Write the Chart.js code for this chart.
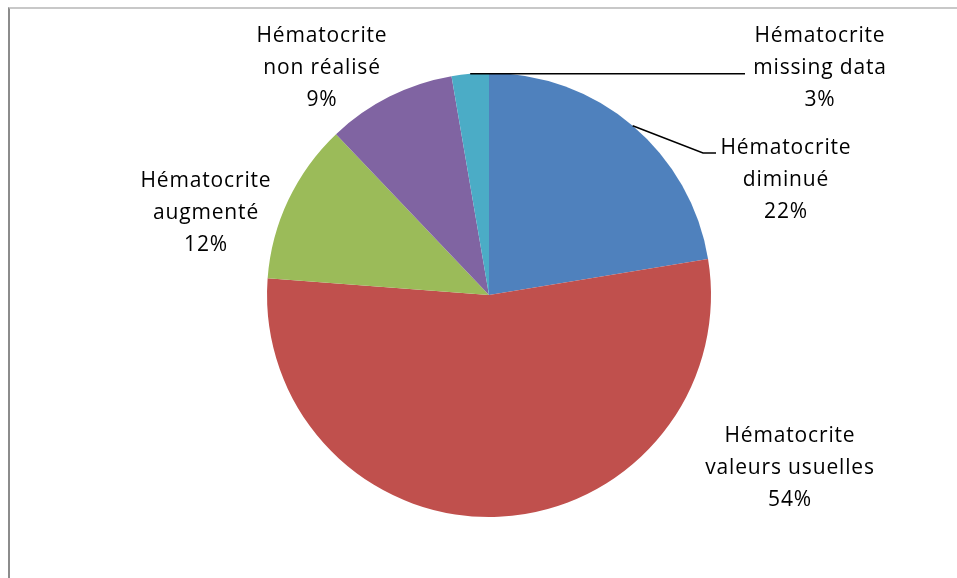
<!DOCTYPE html>
<html>
<head>
<meta charset="utf-8">
<script src="https://cdn.jsdelivr.net/npm/chart.js@4"></script>
<style>
  html, body { margin: 0; padding: 0; background: #fff; }
  #wrap { position: relative; width: 957px; height: 578px; }
  #frame { position: absolute; left: 8px; top: 7px; right: 0; bottom: 0;
           border-top: 2px solid #c8c8c8; border-left: 2px solid #8c8c8c; }
  canvas { position: absolute; left: 0; top: 0; }
</style>
</head>
<body>
<div id="wrap">
  <div id="frame"></div>
  <canvas id="pie" width="957" height="578"></canvas>
</div>
<script>
// Données
const categories = ['Hématocrite diminué', 'Hématocrite valeurs usuelles', 'Hématocrite augmenté', 'Hématocrite non réalisé', 'Hématocrite missing data'];
const labelLines = [
  ['Hématocrite', 'diminué'],
  ['Hématocrite', 'valeurs usuelles'],
  ['Hématocrite', 'augmenté'],
  ['Hématocrite', 'non réalisé'],
  ['Hématocrite', 'missing data']
];
const values = [22.4, 53.8, 11.7, 9.4, 2.7];
const colors = ['#4F81BD', '#C0504D', '#9BBB59', '#8064A2', '#4BACC6'];

// placement des étiquettes (centre du texte, première ligne) + coude des lignes de rappel
const labelPos = [
  { x: 786, y: 148, elbow: [703, 153], end: [716, 153] },
  { x: 790, y: 436 },
  { x: 206, y: 181 },
  { x: 322, y: 36 },
  { x: 820, y: 36, elbow: null, end: [745, 72] }
];

const FONT = '21px "Open Sans", sans-serif';
const LINE_H = 32;

// Plugin: étiquettes façon Excel
const pieLabels = {
  id: 'pieLabels',
  afterDatasetsDraw(chart){
    const ctx = chart.ctx;
    const meta = chart.getDatasetMeta(0);
    const total = values.reduce((a,b) => a + b, 0);
    ctx.save();
    ctx.font = FONT;
    ctx.fillStyle = '#000';
    ctx.textAlign = 'center';
    ctx.textBaseline = 'middle';
    const target = 131;
    const w = ctx.measureText('Hématocrite').width;
    ctx.letterSpacing = Math.max(0, (target - w) / 11).toFixed(2) + 'px';

    meta.data.forEach((arc, i) => {
      const p = labelPos[i];
      const pct = Math.round(values[i] / total * 100) + '%';
      const lines = labelLines[i].concat([pct]);
      lines.forEach((t, k) => ctx.fillText(t, p.x, p.y + k * LINE_H));

      if(p.end){
        const mid = (arc.startAngle + arc.endAngle) / 2;
        const sx = arc.x + arc.outerRadius * Math.cos(mid);
        const sy = arc.y + arc.outerRadius * Math.sin(mid);
        ctx.beginPath();
        ctx.strokeStyle = '#000';
        ctx.lineWidth = 1.5;
        ctx.moveTo(sx, sy);
        if(p.elbow){
          ctx.lineTo(p.elbow[0], p.elbow[1]);
          ctx.lineTo(p.end[0], p.end[1]);
        } else {
          ctx.lineTo(p.end[0], sy);
        }
        ctx.stroke();
      }
    });
    ctx.restore();
  }
};

new Chart(document.getElementById('pie').getContext('2d'), {
  type: 'pie',
  data: {
    labels: categories,
    datasets: [{
      data: values,
      backgroundColor: colors,
      borderWidth: 0
    }]
  },
  options: {
    responsive: false,
    animation: false,
    layout: { padding: { left: 267, right: 246, top: 73, bottom: 61 } },
    plugins: {
      legend: { display: false },
      tooltip: { enabled: false }
    }
  },
  plugins: [pieLabels]
});
</script>
</body>
</html>
